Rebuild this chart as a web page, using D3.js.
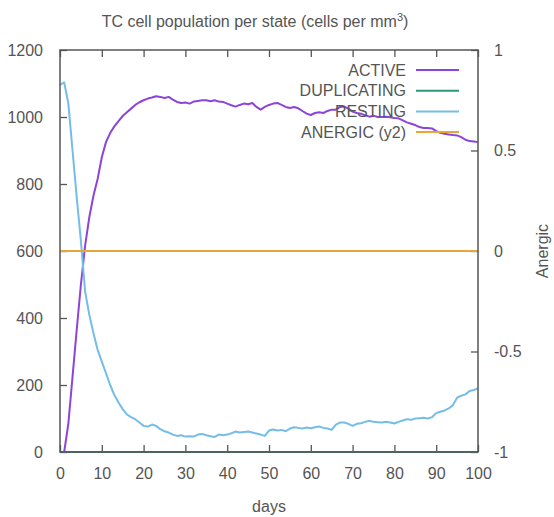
<!DOCTYPE html>
<html>
<head>
<meta charset="utf-8">
<script src="https://cdn.jsdelivr.net/npm/d3@7"></script>
<style>
  html, body { margin: 0; padding: 0; background: #fff; overflow: hidden; }
  svg { display: block; }
  text { font-family: "Liberation Sans Narrow", "Liberation Sans", Arial, sans-serif; fill: #555; }
</style>
</head>
<body>
<div id="chart"></div>
<script>
// ---- data ----
const days = [0,1,2,3,4,5,6,7,8,9,10,11,12,13,14,15,16,17,18,19,20,21,22,23,24,25,26,27,28,29,30,31,32,33,34,35,36,37,38,39,40,41,42,43,44,45,46,47,48,49,50,51,52,53,54,55,56,57,58,59,60,61,62,63,64,65,66,67,68,69,70,71,72,73,74,75,76,77,78,79,80,81,82,83,84,85,86,87,88,89,90,91,92,93,94,95,96,97,98,99,100];
const active = [0,0,85,225,365,500,615,700,765,815,880,925,952,972,988,1003,1014,1025,1036,1044,1050,1055,1058,1062,1060,1057,1060,1052,1045,1042,1043,1040,1046,1048,1050,1050,1047,1050,1046,1045,1040,1035,1031,1036,1040,1038,1042,1030,1022,1030,1036,1040,1042,1036,1030,1027,1030,1026,1018,1010,1006,1012,1014,1012,1018,1022,1022,1030,1031,1025,1016,1012,1010,1005,1001,1004,1000,1000,1001,999,997,996,990,984,980,976,970,967,967,966,958,953,950,948,946,945,940,932,928,927,925];
const duplicating = days.map(() => 0);
const resting = [1096,1103,1040,900,760,630,480,410,355,305,270,235,200,170,148,128,112,104,98,88,78,76,82,78,68,62,58,52,48,50,46,47,46,52,54,50,47,45,52,50,52,56,61,58,60,61,58,55,52,48,64,67,64,66,62,70,74,72,70,73,71,74,76,72,70,66,82,88,88,84,78,84,86,90,93,90,89,88,90,88,85,90,94,98,96,100,101,102,100,104,116,120,124,130,140,162,168,172,182,185,190];
const anergic = days.map(() => 0);
const xTicks = [0,10,20,30,40,50,60,70,80,90,100];
const yTicks = [0,200,400,600,800,1000,1200];
const y2Ticks = [-1,-0.5,0,0.5,1];
const seriesNames = ["ACTIVE","DUPLICATING","RESTING","ANERGIC (y2)"];
const seriesColors = ["#8c44da","#2a9a78","#74bde9","#e8a53a"];

// ---- layout ----
const W = 554, H = 517;
const m = {left: 60, right: 76, top: 50, bottom: 65};
const pw = W - m.left - m.right, ph = H - m.top - m.bottom;

const svg = d3.select("#chart").append("svg").attr("width", W).attr("height", H);
const g = svg.append("g").attr("transform", `translate(${m.left},${m.top})`);

const x = d3.scaleLinear().domain([0,100]).range([0,pw]);
const y = d3.scaleLinear().domain([0,1200]).range([ph,0]);
const y2 = d3.scaleLinear().domain([-1,1]).range([ph,0]);

const axisColor = "#555";
const fs = 16;
const plain = d => String(d);

function styleAxis(sel) {
  sel.select(".domain").remove();
  sel.selectAll(".tick line").attr("stroke", axisColor).attr("stroke-width", 1.3);
  sel.selectAll(".tick text").style("font-size", fs + "px").attr("fill", "#555");
}

// bottom axis (ticks inward)
g.append("g").attr("transform", `translate(0,${ph})`)
  .call(d3.axisBottom(x).tickValues(xTicks).tickSize(-7).tickPadding(16).tickFormat(plain))
  .call(styleAxis);
// top mirror ticks
g.append("g")
  .call(d3.axisTop(x).tickValues(xTicks).tickSize(-7).tickFormat(""))
  .call(styleAxis);
// left axis
g.append("g")
  .call(d3.axisLeft(y).tickValues(yTicks).tickSize(-7).tickPadding(17).tickFormat(plain))
  .call(styleAxis);
// right y2 axis
g.append("g").attr("transform", `translate(${pw},0)`)
  .call(d3.axisRight(y2).tickValues(y2Ticks).tickSize(-7).tickPadding(16).tickFormat(plain))
  .call(styleAxis);

// series lines
const lineY = d3.line().x((d,i) => x(days[i])).y(d => y(d));
const lineY2 = d3.line().x((d,i) => x(days[i])).y(d => y2(d));

const data = [
  {vals: active, line: lineY, c: seriesColors[0]},
  {vals: duplicating, line: lineY, c: seriesColors[1]},
  {vals: resting, line: lineY, c: seriesColors[2]},
  {vals: anergic, line: lineY2, c: seriesColors[3]}
];
g.selectAll("path.series").data(data).enter().append("path")
  .attr("class","series")
  .attr("d", d => d.line(d.vals))
  .attr("fill","none").attr("stroke", d => d.c).attr("stroke-width", 2)
  .attr("stroke-linejoin","round");

// frame
g.append("rect").attr("x",0).attr("y",0).attr("width",pw).attr("height",ph)
  .attr("fill","none").attr("stroke", axisColor).attr("stroke-width",1.5);

// legend
const leg = g.append("g");
seriesNames.forEach((name, i) => {
  const yy = 20 + i * 20.7;
  leg.append("text").attr("x", 346).attr("y", yy).attr("dy","0.35em")
    .attr("text-anchor","end").style("font-size", fs + "px").text(name);
  leg.append("line").attr("x1", 356).attr("x2", 399).attr("y1", yy).attr("y2", yy)
    .attr("stroke", seriesColors[i]).attr("stroke-width", 2);
});

// title
const title = svg.append("text").attr("x", 255).attr("y", 27).attr("text-anchor","middle")
  .style("font-size","16px");
title.append("tspan").text("TC cell population per state (cells per mm");
title.append("tspan").attr("dy", -6).style("font-size","11px").text("3");
title.append("tspan").attr("dy", 6).text(")");

// x label
svg.append("text").attr("x", m.left + pw/2).attr("y", 512).attr("text-anchor","middle")
  .style("font-size", fs + "px").text("days");

// y2 label, kept just inside the right edge
svg.append("text").attr("transform", `translate(548,251) rotate(-90)`).attr("text-anchor","middle")
  .style("font-size","16px").text("Anergic");
</script>
</body>
</html>
